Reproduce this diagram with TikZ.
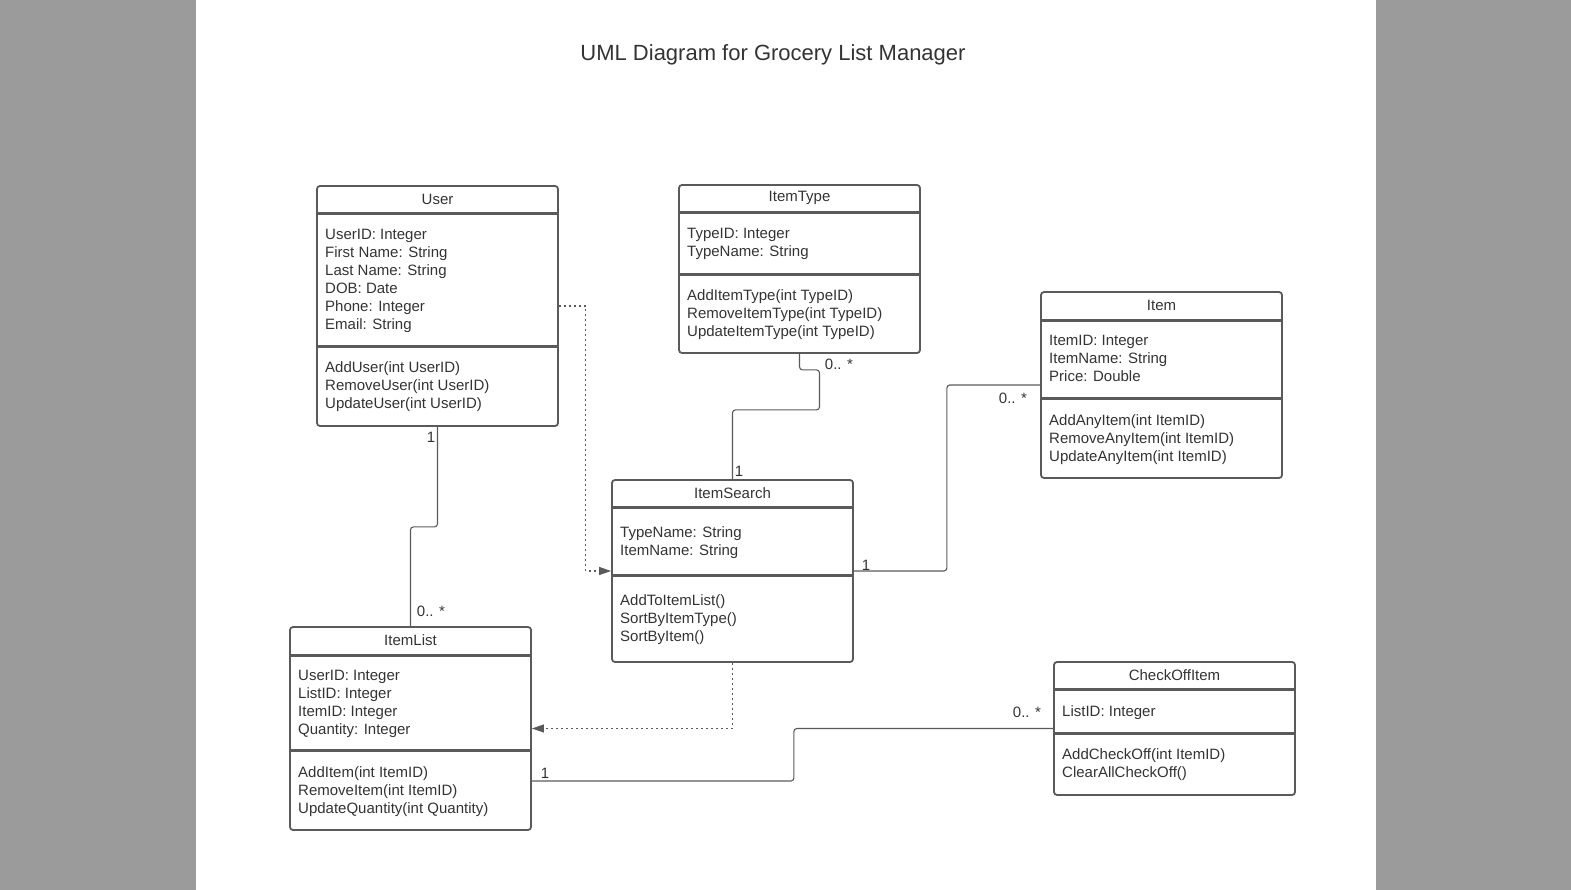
\documentclass[tikz,border=0pt]{standalone}
\usepackage{fontspec}
\setmainfont{Liberation Sans}
\usetikzlibrary{calc,positioning,arrows.meta}
\definecolor{umlpage}{RGB}{155,155,155}
\definecolor{umlline}{RGB}{90,90,90}
\definecolor{umlink}{RGB}{51,51,51}

\begin{document}
\begin{tikzpicture}[x=1pt,y=-1pt,
  font=\fontsize{15}{18}\selectfont,
  every node/.style={text=umlink},
  classbox/.style={draw=umlline,line width=1.8pt,rounded corners=3pt,minimum width=241pt,inner sep=0pt},
  divider/.style={umlline,line width=3pt},
  members/.style={anchor=north west,align=left,inner sep=0pt},
  mult/.style={inner sep=0pt},
  assoc/.style={umlline,line width=1.1pt,rounded corners=3pt},
  dep/.style={umlline,line width=1.1pt,dash pattern=on 2pt off 3pt,-{Triangle[length=12pt,width=8pt]}}]

% page
\useasboundingbox (0,0) rectangle (1571,890);
\fill[umlpage] (0,0) rectangle (196,890);
\fill[umlpage] (1376,0) rectangle (1571,890);

\node[font=\fontsize{22}{26}\selectfont] (title) at (773,55) {UML Diagram for Grocery List Manager};

% classes
\node[classbox,minimum height=240pt] (user) at (437.5,306) {};
\node[classbox,minimum height=168pt] (itemtype) at (799.5,269) {};
\node[classbox,minimum height=186pt] (item) at (1161.5,385) {};
\node[classbox,minimum height=182pt] (itemsearch) at (732.5,571) {};
\node[classbox,minimum height=203pt] (itemlist) at (410.5,728.5) {};
\node[classbox,minimum height=133pt] (checkoff) at (1174.5,728.5) {};

% compartments
\draw[divider] ([yshift=-28pt]user.north west) -- ([yshift=-28pt]user.north east);
\draw[divider] ([yshift=-161pt]user.north west) -- ([yshift=-161pt]user.north east);
\draw[divider] ([yshift=-28pt]itemtype.north west) -- ([yshift=-28pt]itemtype.north east);
\draw[divider] ([yshift=-90pt]itemtype.north west) -- ([yshift=-90pt]itemtype.north east);
\draw[divider] ([yshift=-29pt]item.north west) -- ([yshift=-29pt]item.north east);
\draw[divider] ([yshift=-107pt]item.north west) -- ([yshift=-107pt]item.north east);
\draw[divider] ([yshift=-28pt]itemsearch.north west) -- ([yshift=-28pt]itemsearch.north east);
\draw[divider] ([yshift=-96pt]itemsearch.north west) -- ([yshift=-96pt]itemsearch.north east);
\draw[divider] ([yshift=-29pt]itemlist.north west) -- ([yshift=-29pt]itemlist.north east);
\draw[divider] ([yshift=-124pt]itemlist.north west) -- ([yshift=-124pt]itemlist.north east);
\draw[divider] ([yshift=-28pt]checkoff.north west) -- ([yshift=-28pt]checkoff.north east);
\draw[divider] ([yshift=-72pt]checkoff.north west) -- ([yshift=-72pt]checkoff.north east);

% class names
\node (userT) at ([yshift=-14pt]user.north) {User};
\node (itemtypeT) at ([yshift=-14pt]itemtype.north) {ItemType};
\node (itemT) at ([yshift=-14pt]item.north) {Item};
\node (itemsearchT) at ([yshift=-14pt]itemsearch.north) {ItemSearch};
\node (itemlistT) at ([yshift=-14pt]itemlist.north) {ItemList};
\node (checkoffT) at ([yshift=-14pt]checkoff.north) {CheckOffItem};

% attributes
\node[members] (userA) at (325,229) {UserID: Integer\\First Name: String\\Last Name: String\\DOB: Date\\Phone: Integer\\Email: String};
\node[members] (itemtypeA) at (687,228) {TypeID: Integer\\TypeName: String};
\node[members] (itemA) at (1049,335) {ItemID: Integer\\ItemName: String\\Price: Double};
\node[members] (itemsearchA) at (620,526) {TypeName: String\\ItemName: String};
\node[members] (itemlistA) at (298,670) {UserID: Integer\\ListID: Integer\\ItemID: Integer\\Quantity: Integer};
\node[members] (checkoffA) at (1062,705) {ListID: Integer};

% operations
\node[members] (userM) at (325,361) {AddUser(int UserID)\\RemoveUser(int UserID)\\UpdateUser(int UserID)};
\node[members] (itemtypeM) at (687,289) {AddItemType(int TypeID)\\RemoveItemType(int TypeID)\\UpdateItemType(int TypeID)};
\node[members] (itemM) at (1049,414) {AddAnyItem(int ItemID)\\RemoveAnyItem(int ItemID)\\UpdateAnyItem(int ItemID)};
\node[members] (itemsearchM) at (620,594) {AddToItemList()\\SortByItemType()\\SortByItem()};
\node[members] (itemlistM) at (298,766) {AddItem(int ItemID)\\RemoveItem(int ItemID)\\UpdateQuantity(int Quantity)};
\node[members] (checkoffM) at (1062,748) {AddCheckOff(int ItemID)\\ClearAllCheckOff()};

% associations
\draw[assoc] (user.south) -- ++(0,100) -| (itemlist.north);
\draw[assoc] (itemtype.south) -- ++(0,16) -- ++(20,0) -- ++(0,40) -| (itemsearch.north);
\draw[assoc] (itemsearch.east) -- ++(93,0) |- (item.west);
\draw[assoc] ([yshift=-52.5pt]itemlist.east) -- ++(262,0) |- (checkoff.west);

% dependencies
\draw[dep] (user.east) -- ++(27,0) |- (itemsearch.west);
\draw[dep] (itemsearch.south) |- (itemlist.east);

% multiplicities
\node[mult] (m1) at (431,437) {1};
\node[mult] (m2) at (431,611) {0.. *};
\node[mult] (m3) at (839,364) {0.. *};
\node[mult] (m4) at (739,471) {1};
\node[mult] (m5) at (866,565) {1};
\node[mult] (m6) at (1013,398) {0.. *};
\node[mult] (m7) at (545,773) {1};
\node[mult] (m8) at (1027,712) {0.. *};
\end{tikzpicture}
\end{document}
